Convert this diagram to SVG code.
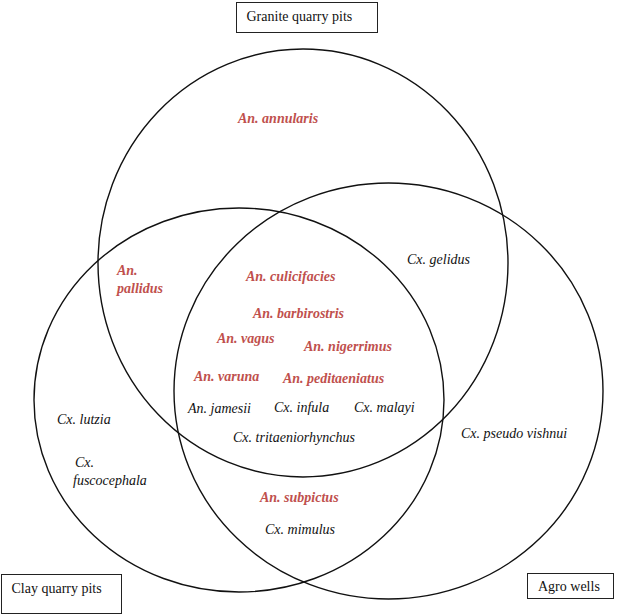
<svg xmlns="http://www.w3.org/2000/svg" width="617" height="615" viewBox="0 0 617 615">
<style>
.c{fill:none;stroke:#111;stroke-width:1.4}
.b{fill:#fff;stroke:#222;stroke-width:1}
.l{font-family:"Liberation Serif","Times New Roman",serif;font-size:14px;fill:#111}
.s{font-family:"Liberation Serif","Times New Roman",serif;font-size:14px;font-style:italic;fill:#111}
.r{font-family:"Liberation Serif","Times New Roman",serif;font-size:14px;font-style:italic;font-weight:bold;fill:#c0504d}
</style>
<rect width="617" height="615" fill="#fff"/>
<g id="connectors"></g>
<g id="granite">
<ellipse class="c" cx="303" cy="263" rx="205" ry="214"/>
<rect class="b" x="236.5" y="2.5" width="141" height="30"/>
<text class="l" x="246.5" y="21">Granite quarry pits</text>
</g>
<g id="clay">
<ellipse class="c" cx="239" cy="400" rx="205" ry="192"/>
<rect class="b" x="1.5" y="574.5" width="120" height="39"/>
<text class="l" x="11.5" y="593">Clay quarry pits</text>
</g>
<g id="agro">
<ellipse class="c" cx="388.5" cy="391" rx="214.5" ry="208"/>
<rect class="b" x="527.5" y="573.5" width="86" height="25"/>
<text class="l" x="538" y="590.5">Agro wells</text>
</g>
<g id="species">
<text class="r" x="238" y="123">An. annularis</text>
<text class="r" x="117" y="275">An.</text>
<text class="r" x="117" y="293">pallidus</text>
<text class="r" x="246" y="281">An. culicifacies</text>
<text class="r" x="253" y="318">An. barbirostris</text>
<text class="r" x="217" y="343">An. vagus</text>
<text class="r" x="304" y="351">An. nigerrimus</text>
<text class="r" x="194" y="381">An. varuna</text>
<text class="r" x="283" y="383">An. peditaeniatus</text>
<text class="s" x="188" y="413">An. jamesii</text>
<text class="s" x="274" y="412">Cx. infula</text>
<text class="s" x="354" y="412">Cx. malayi</text>
<text class="s" x="233" y="442">Cx. tritaeniorhynchus</text>
<text class="r" x="260" y="502">An. subpictus</text>
<text class="s" x="265" y="534">Cx. mimulus</text>
<text class="s" x="57" y="424">Cx. lutzia</text>
<text class="s" x="75" y="467">Cx.</text>
<text class="s" x="73" y="485">fuscocephala</text>
<text class="s" x="407" y="264">Cx. gelidus</text>
<text class="s" x="461" y="438">Cx. pseudo vishnui</text>
</g>
</svg>
